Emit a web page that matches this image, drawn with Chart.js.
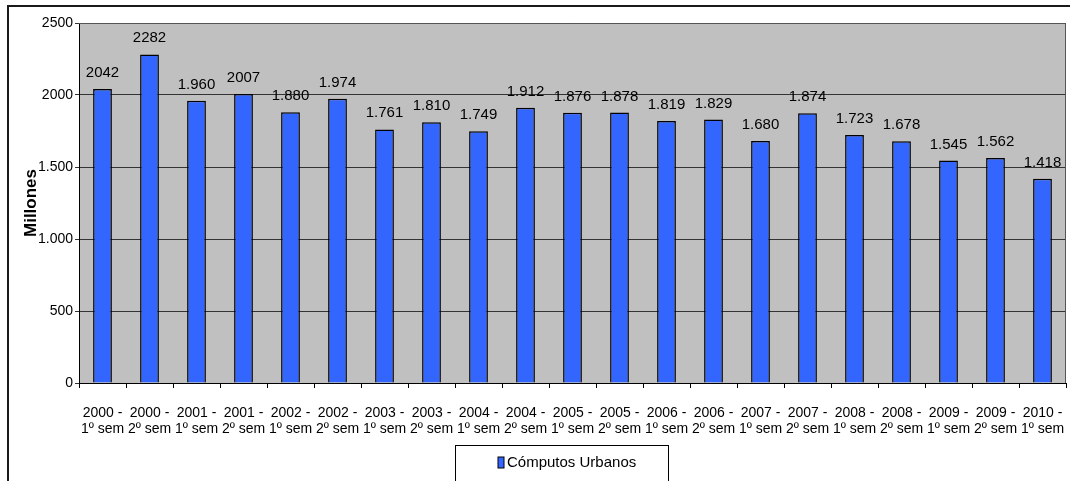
<!DOCTYPE html>
<html lang="es">
<head>
<meta charset="utf-8">
<title>Cómputos Urbanos</title>
<script src="https://cdn.jsdelivr.net/npm/chart.js@4.4.1/dist/chart.umd.min.js"></script>
<style>
  html, body { margin: 0; padding: 0; background: #fff; }
  #caja { width: 1070px; height: 481px; position: relative; }
</style>
</head>
<body>
<div id="caja"><canvas id="grafica" width="1070" height="481"></canvas></div>
<script>
// Datos
const periodos = [
    ['2000 -', '1º sem'], ['2000 -', '2º sem'], ['2001 -', '1º sem'], ['2001 -', '2º sem'],
    ['2002 -', '1º sem'], ['2002 -', '2º sem'], ['2003 -', '1º sem'], ['2003 -', '2º sem'],
    ['2004 -', '1º sem'], ['2004 -', '2º sem'], ['2005 -', '1º sem'], ['2005 -', '2º sem'],
    ['2006 -', '1º sem'], ['2006 -', '2º sem'], ['2007 -', '1º sem'], ['2007 -', '2º sem'],
    ['2008 -', '1º sem'], ['2008 -', '2º sem'], ['2009 -', '1º sem'], ['2009 -', '2º sem'],
    ['2010 -', '1º sem']
];
const computosUrbanos = [2042, 2282, 1960, 2007, 1880, 1974, 1761, 1810, 1749, 1912, 1876,
    1878, 1819, 1829, 1680, 1874, 1723, 1678, 1545, 1562, 1418];
const nombreSerie = 'Cómputos Urbanos';
const tituloEjeY = 'Millones';

const fuente = "'Liberation Sans', Arial, sans-serif";

// En el original los valores de 2000 o más se ven sin punto de miles
function formato(v) {
    if (v < 1000 || v >= 2000) return String(v);
    return Math.floor(v / 1000) + '.' + String(v % 1000).padStart(3, '0');
}

// Fondo, marco exterior y fondo gris del área de trazado
const fondo = {
    id: 'fondo',
    beforeDraw(chart) {
        const ctx = chart.ctx;
        const a = chart.chartArea;
        ctx.save();
        ctx.fillStyle = '#fff';
        ctx.fillRect(0, 0, chart.width, chart.height);
        ctx.fillStyle = '#c0c0c0';
        ctx.fillRect(a.left, a.top, a.right - a.left, a.bottom - a.top);
        ctx.strokeStyle = '#1a1a1a';
        ctx.lineWidth = 2;
        ctx.beginPath();
        ctx.moveTo(8, chart.height);
        ctx.lineTo(8, 6);
        ctx.lineTo(chart.width, 6);
        ctx.stroke();
        ctx.restore();
    },
    afterDatasetsDraw(chart) {
        const ctx = chart.ctx;
        const a = chart.chartArea;
        ctx.save();
        ctx.strokeStyle = '#555';
        ctx.lineWidth = 1;
        ctx.beginPath();
        ctx.moveTo(a.left, a.top + 0.5);
        ctx.lineTo(a.right - 0.5, a.top + 0.5);
        ctx.lineTo(a.right - 0.5, a.bottom);
        ctx.stroke();
        ctx.restore();
    }
};

// Etiquetas de valor encima de cada barra
const etiquetas = {
    id: 'etiquetas',
    afterDatasetsDraw(chart) {
        const ctx = chart.ctx;
        const meta = chart.getDatasetMeta(0);
        ctx.save();
        ctx.font = '15px ' + fuente;
        ctx.fillStyle = '#000';
        ctx.textAlign = 'center';
        ctx.textBaseline = 'alphabetic';
        meta.data.forEach((barra, i) => {
            ctx.fillText(formato(computosUrbanos[i]), barra.x, barra.y - 12);
        });
        ctx.restore();
    }
};

// Leyenda con recuadro, debajo del eje
const leyenda = {
    id: 'leyenda',
    afterDraw(chart) {
        const ctx = chart.ctx;
        const ds = chart.data.datasets[0];
        ctx.save();
        ctx.strokeStyle = '#000';
        ctx.lineWidth = 1;
        ctx.strokeRect(455.5, 445.5, 213, 60);
        ctx.fillStyle = ds.backgroundColor;
        ctx.fillRect(498, 457, 6, 11);
        ctx.strokeRect(498, 457, 6, 11);
        ctx.font = '15px ' + fuente;
        ctx.fillStyle = '#000';
        ctx.textBaseline = 'middle';
        ctx.fillText(ds.label, 507, 463);
        ctx.restore();
    }
};

const ctx = document.getElementById('grafica').getContext('2d');
window.myChart = new Chart(ctx, {
    type: 'bar',
    data: {
        labels: periodos,
        datasets: [{
            label: nombreSerie,
            data: computosUrbanos,
            backgroundColor: '#3366ff',
            borderColor: '#000',
            borderWidth: 1.5,
            borderSkipped: 'bottom',
            barPercentage: 0.4,
            categoryPercentage: 1
        }]
    },
    options: {
        responsive: false,
        animation: false,
        devicePixelRatio: 1,
        layout: { padding: { top: 23, right: 4, bottom: 0, left: 0 } },
        plugins: {
            legend: { display: false },
            tooltip: { enabled: false }
        },
        scales: {
            x: {
                offset: true,
                grid: {
                    offset: true,
                    drawOnChartArea: false,
                    drawTicks: true,
                    tickLength: 5,
                    color: '#000'
                },
                border: { color: '#000', width: 1 },
                ticks: {
                    color: '#000',
                    padding: 18,
                    maxRotation: 0,
                    autoSkip: false,
                    font: { family: fuente, size: 14, lineHeight: 1.08 }
                },
                afterFit(scale) {
                    scale.height = 98;
                    scale.paddingLeft = 0;
                    scale.paddingRight = 0;
                }
            },
            y: {
                min: 0,
                max: 2500,
                ticks: {
                    stepSize: 500,
                    color: '#000',
                    padding: 2,
                    font: { family: fuente, size: 14 },
                    callback: v => formato(v)
                },
                grid: { color: '#333', tickLength: 4, drawTicks: true },
                border: { color: '#000', width: 1 },
                title: {
                    display: true,
                    text: tituloEjeY,
                    color: '#000',
                    padding: { top: 21, bottom: 0 },
                    font: { family: fuente, size: 17, weight: 'bold' }
                },
                afterFit(scale) { scale.width = 79; }
            }
        }
    },
    plugins: [fondo, etiquetas, leyenda]
});
</script>
</body>
</html>
